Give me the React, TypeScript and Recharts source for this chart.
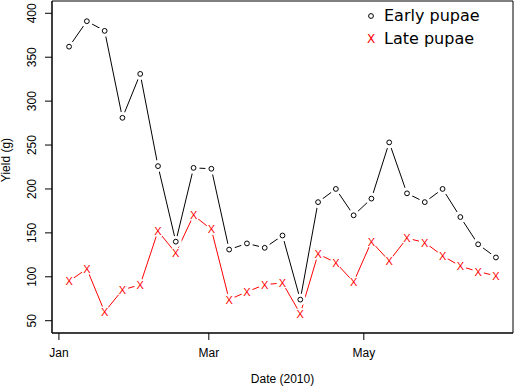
import React from 'react';
import {
  LineChart,
  Line,
  XAxis,
  YAxis,
  ReferenceArea,
  Legend
} from 'recharts';

// weekly sampling dates (2010)
const DATES = [
  '2010-01-05', '2010-01-12', '2010-01-19', '2010-01-26',
  '2010-02-02', '2010-02-09', '2010-02-16', '2010-02-23',
  '2010-03-02', '2010-03-09', '2010-03-16', '2010-03-23', '2010-03-30',
  '2010-04-06', '2010-04-13', '2010-04-20', '2010-04-27',
  '2010-05-04', '2010-05-11', '2010-05-18', '2010-05-25',
  '2010-06-01', '2010-06-08', '2010-06-15', '2010-06-22',
];

const EARLY = [362, 391, 380, 281, 331, 226, 140, 224, 223, 131, 138, 133, 147, 74, 185, 200, 170, 189, 253, 195, 185, 200, 168, 137, 122];
const LATE = [95, 109, 60, 85, 91, 152, 127, 170, 154, 74, 83, 91, 93, 58, 126, 116, 94, 140, 118, 144, 139, 124, 112, 106, 101];

const MONTH_TICKS = ['2010-01-01', '2010-03-01', '2010-05-01'];
const MONTH_LABELS = ['Jan', 'Mar', 'May'];
const Y_TICKS = [50, 100, 150, 200, 250, 300, 350, 400];

const DAY = 86400000;
const T0 = Date.parse('2010-01-01');
const toDay = (d: string) => (Date.parse(d) - T0) / DAY;

const data = DATES.map((d, i) => ({ day: toDay(d), early: EARLY[i], late: LATE[i] }));
const xTicks = MONTH_TICKS.map(toDay);

// R style padding (4% each side)
const X_DOMAIN = [-2.72, 178.72];
const Y_DOMAIN = [36, 414];

const AXIS_FONT = 'Liberation Sans, Arial, Helvetica, sans-serif';

const EarlyDot = (props: any) => {
  const { cx, cy } = props;
  if (cx == null || cy == null) return null;
  return (
    <g>
      <circle cx={cx} cy={cy} r={6} fill="#fff" stroke="none" />
      <circle cx={cx} cy={cy} r={2.4} fill="none" stroke="#000" strokeWidth={1} />
    </g>
  );
};

const LateDot = (props: any) => {
  const { cx, cy } = props;
  if (cx == null || cy == null) return null;
  return (
    <g>
      <circle cx={cx} cy={cy} r={6} fill="#fff" stroke="none" />
      <text x={cx} y={cy + 4} textAnchor="middle" fill="#ff0000" fontFamily={AXIS_FONT} fontSize={11}>
        X
      </text>
    </g>
  );
};

const YTick = (props: any) => {
  const { x, y, payload } = props;
  return (
    <text
      x={x}
      y={y}
      transform={`rotate(-90, ${x}, ${y})`}
      textAnchor="middle"
      fill="#000"
      fontFamily={AXIS_FONT}
      fontSize={12}
    >
      {payload.value}
    </text>
  );
};

const XTick = (props: any) => {
  const { x, y, payload } = props;
  const idx = xTicks.indexOf(payload.value);
  return (
    <text x={x} y={y + 15} textAnchor="middle" fill="#000" fontFamily={AXIS_FONT} fontSize={12}>
      {MONTH_LABELS[idx]}
    </text>
  );
};

const LegendBox = () => (
  <div style={{ fontFamily: 'DejaVu Sans, sans-serif', fontSize: 16, color: '#000' }}>
    {[
      { name: 'Early pupae', icon: <circle cx={5} cy={5} r={2.4} fill="none" stroke="#000" /> },
      {
        name: 'Late pupae',
        icon: (
          <text x={5} y={9.4} textAnchor="middle" fill="#ff0000" fontFamily="DejaVu Sans, sans-serif" fontSize={12}>
            X
          </text>
        )
      }
    ].map((item) => (
      <div key={item.name} style={{ display: 'flex', alignItems: 'center', height: 23, whiteSpace: 'nowrap' }}>
        <svg width={10} height={10} style={{ marginRight: 8, overflow: 'visible' }}>
          {item.icon}
        </svg>
        <span>{item.name}</span>
      </div>
    ))}
  </div>
);

export default function App() {
  return (
    <div style={{ width: 514, height: 387, background: '#fff' }}>
      <style>{'body{margin:0;}'}</style>
      <LineChart width={514} height={387} data={data} margin={{ top: 1, right: 1, left: 7, bottom: 24 }}>
        <XAxis
          dataKey="day"
          type="number"
          domain={X_DOMAIN}
          ticks={xTicks}
          allowDataOverflow
          height={30}
          tickSize={7}
          tickMargin={2}
          tick={<XTick />}
          axisLine={{ stroke: '#000' }}
          tickLine={{ stroke: '#000' }}
        />
        <YAxis
          type="number"
          domain={Y_DOMAIN}
          ticks={Y_TICKS}
          allowDataOverflow
          width={45}
          tickSize={7}
          tickMargin={9}
          tick={<YTick />}
          axisLine={{ stroke: '#000' }}
          tickLine={{ stroke: '#000' }}
        />
        <ReferenceArea
          x1={X_DOMAIN[0]}
          x2={X_DOMAIN[1]}
          y1={Y_DOMAIN[0]}
          y2={Y_DOMAIN[1]}
          fill="none"
          fillOpacity={0}
          stroke="#000"
          strokeWidth={1}
        />
        <Legend
          layout="horizontal"
          align="center"
          verticalAlign="middle"
          wrapperStyle={{ top: 4, left: 366, width: 'auto' }}
          content={<LegendBox />}
        />
        <Line
          dataKey="early"
          stroke="#000"
          strokeWidth={1}
          dot={<EarlyDot />}
          activeDot={false}
          isAnimationActive={false}
          type="linear"
        />
        <Line
          dataKey="late"
          stroke="#ff0000"
          strokeWidth={1}
          dot={<LateDot />}
          activeDot={false}
          isAnimationActive={false}
          type="linear"
        />
        <text
          x={9.5}
          y={160}
          transform="rotate(-90, 9.5, 160)"
          textAnchor="middle"
          fill="#000"
          fontFamily={AXIS_FONT}
          fontSize={12}
        >
          Yield (g)
        </text>
        <text x={282.5} y={383} textAnchor="middle" fill="#000" fontFamily={AXIS_FONT} fontSize={12}>
          Date (2010)
        </text>
      </LineChart>
    </div>
  );
}
